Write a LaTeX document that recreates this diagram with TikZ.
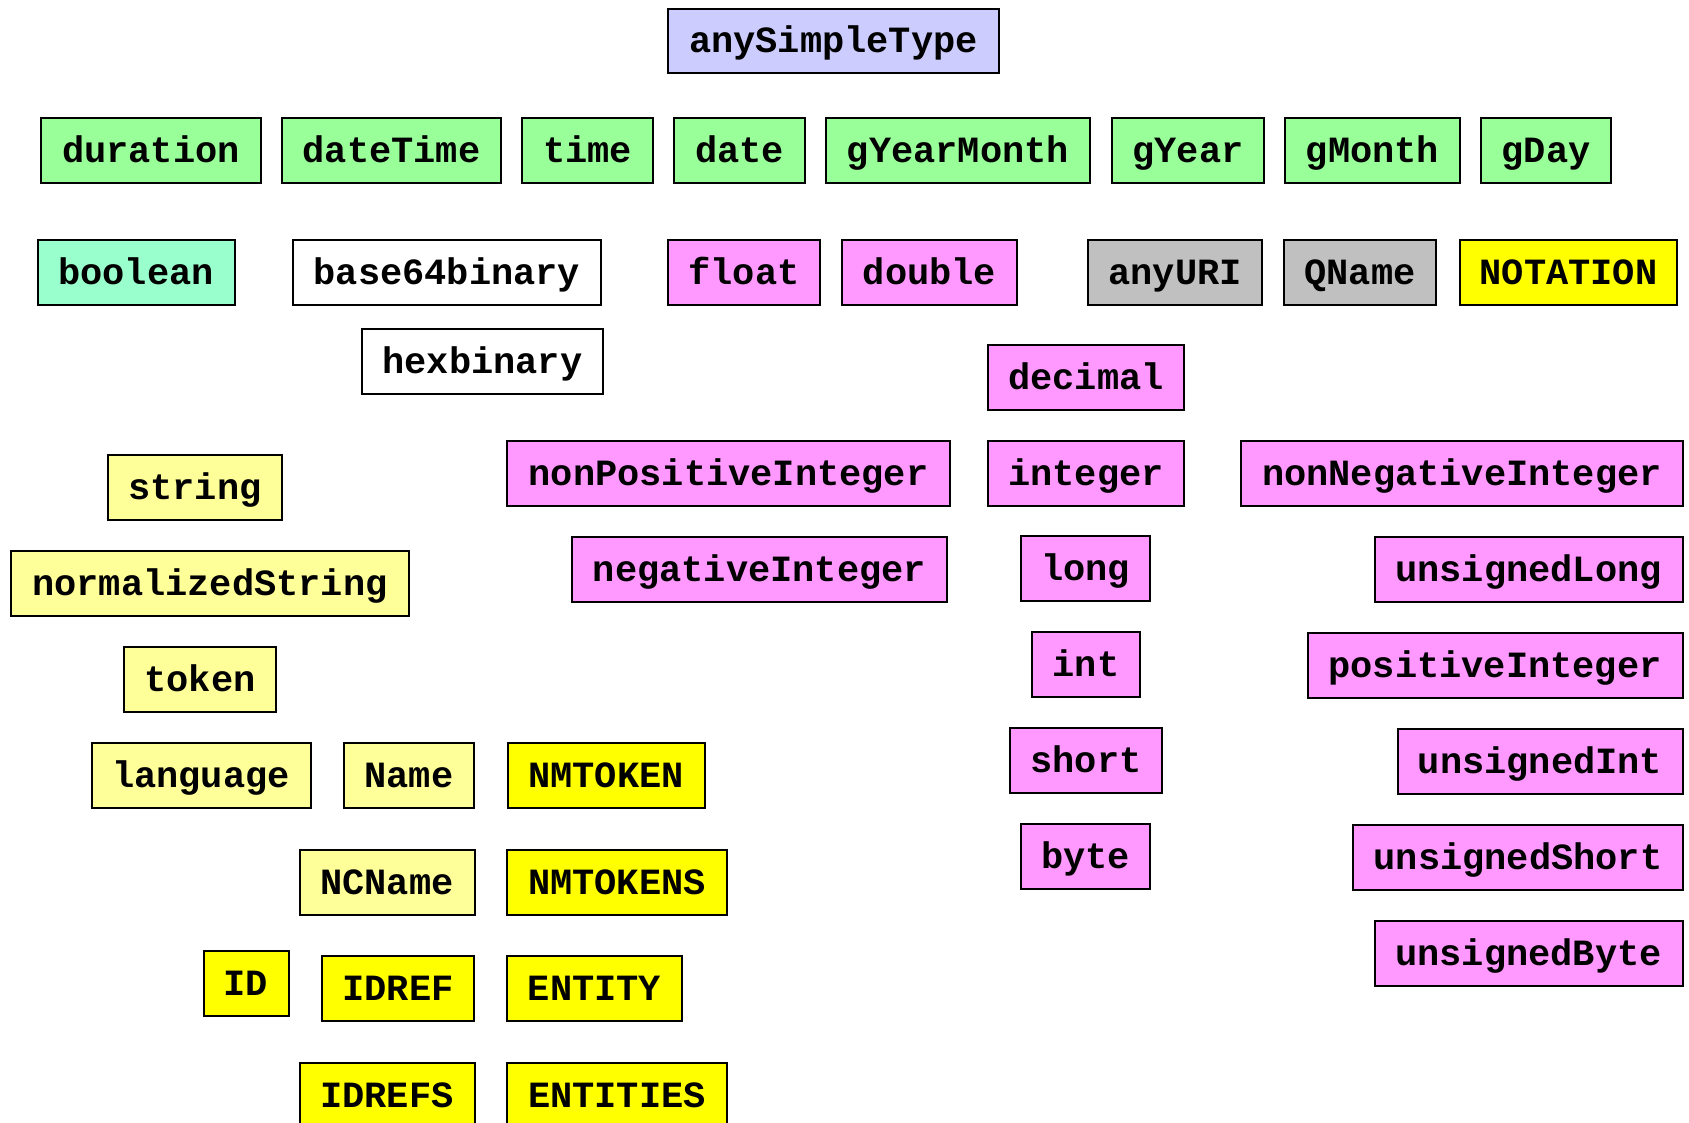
\documentclass[tikz,border=0pt]{standalone}
\usepackage{fontspec}
\setmonofont{Liberation Mono}
\definecolor{cLav}{HTML}{CCCCFF}
\definecolor{cGreen}{HTML}{99FF99}
\definecolor{cAqua}{HTML}{99FFCC}
\definecolor{cPink}{HTML}{FF99FF}
\definecolor{cGrey}{HTML}{C0C0C0}
\definecolor{cYel}{HTML}{FFFF00}
\definecolor{cLYel}{HTML}{FFFF99}
\begin{document}
\begin{tikzpicture}[x=1pt,y=-1pt,
  tbox/.style={draw=black, line width=2pt, inner sep=0pt, minimum height=65,
    text height=24pt, text depth=0pt,
    font=\fontsize{37}{40}\selectfont\ttfamily\bfseries, text=black},
  lav/.style={tbox, fill=cLav},
  grn/.style={tbox, fill=cGreen},
  aqu/.style={tbox, fill=cAqua},
  pnk/.style={tbox, fill=cPink},
  gry/.style={tbox, fill=cGrey},
  yel/.style={tbox, fill=cYel},
  lyel/.style={tbox, fill=cLYel},
  wht/.style={tbox, fill=white}]
\clip (0,0) rectangle (1689,1123);
\fill[white] (0,0) rectangle (1689,1123);

\node[lav, minimum width=331, minimum height=64] (anySimpleType) at (833.5,41) {anySimpleType};

\node[grn, minimum width=220] (duration) at (151,151) {duration};
\node[grn, minimum width=219] (dateTime) at (391.5,151) {dateTime};
\node[grn, minimum width=131] (time) at (587.5,151) {time};
\node[grn, minimum width=131] (date) at (739.5,151) {date};
\node[grn, minimum width=264] (gYearMonth) at (958,151) {gYearMonth};
\node[grn, minimum width=152] (gYear) at (1188,151) {gYear};
\node[grn, minimum width=175] (gMonth) at (1372.5,151) {gMonth};
\node[grn, minimum width=130] (gDay) at (1546,151) {gDay};

\node[aqu, minimum width=197] (boolean) at (136,273) {boolean};
\node[wht, minimum width=308] (base64binary) at (447,273) {base64binary};
\node[pnk, minimum width=152] (float) at (744,273) {float};
\node[pnk, minimum width=175] (double) at (929.5,273) {double};
\node[gry, minimum width=174] (anyURI) at (1175,273) {anyURI};
\node[gry, minimum width=152] (QName) at (1360,273) {QName};
\node[yel, minimum width=217] (NOTATION) at (1568.5,273) {NOTATION};

\node[wht, minimum width=241] (hexbinary) at (482.5,361) {hexbinary};
\node[pnk, minimum width=196] (decimal) at (1086,377.5) {decimal};

\node[lyel, minimum width=174] (string) at (195,487) {string};
\node[pnk, minimum width=443] (nonPositiveInteger) at (728.5,473.5) {nonPositiveInteger};
\node[pnk, minimum width=196] (integer) at (1086,473.5) {integer};
\node[pnk, minimum width=442] (nonNegativeInteger) at (1462,473.5) {nonNegativeInteger};

\node[lyel, minimum width=398] (normalizedString) at (210,583) {normalizedString};
\node[pnk, minimum width=375] (negativeInteger) at (759.5,569) {negativeInteger};
\node[pnk, minimum width=129] (long) at (1085.5,568) {long};
\node[pnk, minimum width=308] (unsignedLong) at (1528.5,569) {unsignedLong};

\node[lyel, minimum width=152] (token) at (200,679) {token};
\node[pnk, minimum width=108] (int) at (1086,664) {int};
\node[pnk, minimum width=375] (positiveInteger) at (1495,665) {positiveInteger};

\node[lyel, minimum width=219] (language) at (201,775) {language};
\node[lyel, minimum width=130] (Name) at (409,775) {Name};
\node[yel, minimum width=197] (NMTOKEN) at (606,775) {NMTOKEN};
\node[pnk, minimum width=152] (short) at (1086,760) {short};
\node[pnk, minimum width=285] (unsignedInt) at (1540,761) {unsignedInt};

\node[pnk, minimum width=330] (unsignedShort) at (1518,857) {unsignedShort};
\node[pnk, minimum width=129] (byte) at (1085.5,856) {byte};
\node[lyel, minimum width=175] (NCName) at (387,882) {NCName};
\node[yel, minimum width=220] (NMTOKENS) at (617,882) {NMTOKENS};

\node[pnk, minimum width=308] (unsignedByte) at (1528.5,953) {unsignedByte};
\node[yel, minimum width=85] (ID) at (246,983) {ID};
\node[yel, minimum width=152] (IDREF) at (398,988) {IDREF};
\node[yel, minimum width=175] (ENTITY) at (594.5,988) {ENTITY};

\node[yel, minimum width=175] (IDREFS) at (387,1095) {IDREFS};
\node[yel, minimum width=220] (ENTITIES) at (617,1095) {ENTITIES};
\end{tikzpicture}
\end{document}
